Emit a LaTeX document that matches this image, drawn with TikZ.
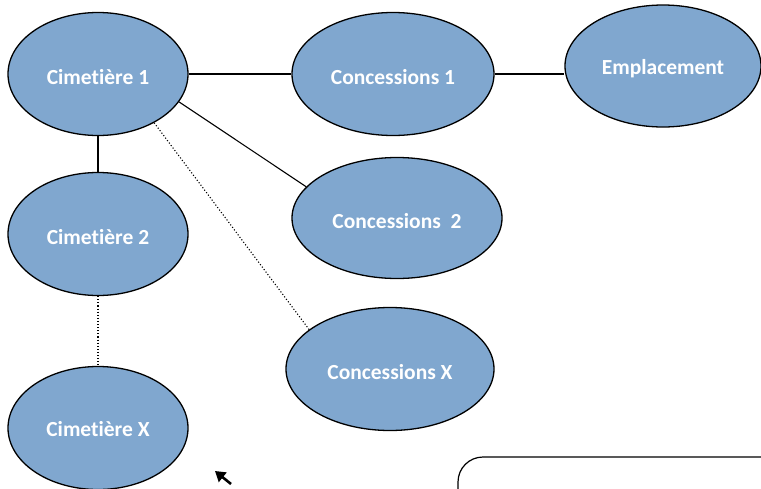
\documentclass[tikz,border=0pt]{standalone}
\usepackage{fontspec}
\setmainfont{Carlito}[Ligatures={NoCommon}]
\usetikzlibrary{shapes.geometric,arrows.meta}
\definecolor{ellfill}{RGB}{128,167,207}
\newcommand{\dn}[2]{\raisebox{-#1}[\height][\depth]{#2}}
\tikzset{
  ent/.style={ellipse, draw=black, line width=1.3pt, fill=ellfill, text=white,
    font=\fontsize{21.5}{24}\selectfont\bfseries, inner sep=0pt},
  link/.style={line width=1.1pt},
  dotlink/.style={line width=1.1pt, dotted},
}
\begin{document}
\begin{tikzpicture}[x=1pt,y=-1pt]
\useasboundingbox (0,0) rectangle (761,488);
\clip (0,0) rectangle (761,488);
\node[ent, minimum width=180pt, minimum height=123pt] (c1) at (98,74) {\dn{3pt}{Cimetière 1}};
\node[ent, minimum width=202pt, minimum height=123pt] (k1) at (393,74) {\dn{3pt}{Concessions 1}};
\node[ent, minimum width=196pt, minimum height=122pt] (em) at (663,66) {\dn{3pt}{Emplacement}};
\node[ent, minimum width=180pt, minimum height=123pt] (c2) at (98,234) {\dn{3pt}{Cimetière 2}};
\node[ent, minimum width=210pt, minimum height=121pt] (k2) at (397,218) {\dn{3pt}{Concessions~ 2}};
\node[ent, minimum width=208pt, minimum height=123pt] (kx) at (390,369) {\dn{3pt}{Concessions X}};
\node[ent, minimum width=180pt, minimum height=123pt] (cx) at (98,428) {\dn{1pt}{Cimetière X}};
\draw[link] (c1.east) -- (k1.west);
\draw[link] (k1.east) -- (k1.east -| em.west);
\draw[link] (c1.south) -- (c2.north);
\draw[link] (c1.-19) -- (k2.161);
\draw[dotlink] (c1.-41) -- (kx.154);
\draw[dotlink] (c2.south) -- (cx.north);
\coordinate (at) at (231,484);
\coordinate (ah) at (215,471);
\draw[line width=2.6pt, -{Triangle[length=10pt,width=12pt]}] (at) -- (ah);
\draw[line width=1.2pt, rounded corners=25pt] (458,500) -- (458,457) -- (780,457);
\end{tikzpicture}
\end{document}
